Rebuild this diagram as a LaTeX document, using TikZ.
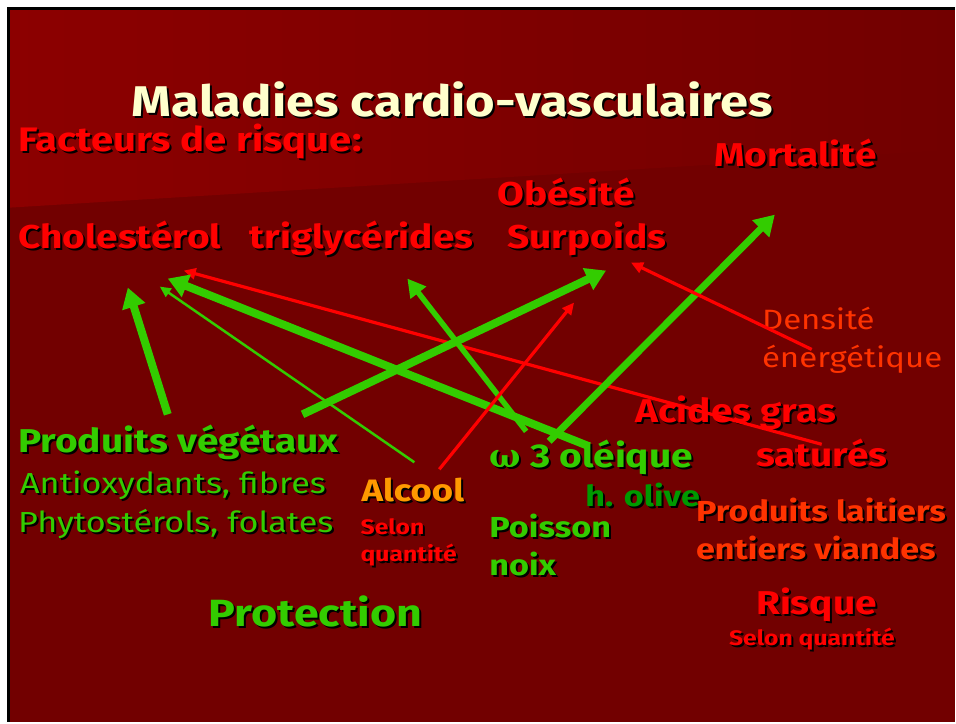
\documentclass[tikz,border=0pt]{standalone}
\usepackage{fontspec}
\usepackage{amsmath}
\usepackage{amssymb}
\setmainfont{Fira Sans}[FakeStretch=1.18]
\newfontfamily\grec{DejaVu Serif}
\usetikzlibrary{arrows.meta}
\definecolor{fond}{HTML}{720000}
\definecolor{fondclair}{HTML}{8C0000}
\definecolor{titre}{HTML}{FFFFCC}
\definecolor{rouge}{HTML}{FF0000}
\definecolor{vert}{HTML}{33CC00}
\definecolor{vertfonce}{HTML}{009900}
\definecolor{orange}{HTML}{FF9900}
\definecolor{orangerouge}{HTML}{FF3300}
\newcommand{\ombre}[1]{\makebox[0pt][l]{\hspace{2pt}\raisebox{-2pt}{\color{black}#1}}#1}

\begin{document}
\begin{tikzpicture}[x=1pt,y=-1pt,
			lbl/.style={anchor=base west, inner sep=0pt, font=\bfseries},
			fin/.style={anchor=base west, inner sep=0pt},
			grosse/.style={draw=vert, line width=8pt, -{Triangle[length=20pt,width=23pt]}},
			moyenne/.style={draw=vert, line width=5.5pt, -{Triangle[length=18pt,width=19pt]}},
			mince/.style={draw=vert, line width=2.5pt, -{Triangle[length=11pt,width=10pt]}},
			rougef/.style={draw=rouge, line width=3.2pt, -{Triangle[length=12pt,width=11pt]}}
		]
		\fill[white] (0,0) rectangle (956,723);
		\fill[fond] (8,8) rectangle (956,723);
		\shade[left color=fondclair, right color=fond] (9,9) -- (956,9) -- (956,150) -- (9,208) -- cycle;
		\draw[black, line width=3pt] (956,8.5) -- (8.5,8.5) -- (8.5,723);

		\node[lbl, text=titre, font=\bfseries\fontsize{43}{48}\selectfont] (titre) at (132,117) {\ombre{Maladies cardio-vasculaires}};
		\node[lbl, text=rouge, font=\bfseries\fontsize{34}{36}\selectfont] (facteurs) at (18,152) {\ombre{Facteurs de risque:}};
		\node[lbl, text=rouge, font=\bfseries\fontsize{33}{36}\selectfont] (mortalite) at (715,167) {\ombre{Mortalité}};
		\node[lbl, text=rouge, font=\bfseries\fontsize{33}{36}\selectfont] (obesite) at (498,206) {\ombre{Obésité}};
		\node[lbl, text=rouge, font=\bfseries\fontsize{33}{36}\selectfont] (chol) at (18,249) {\ombre{Cholestérol}};
		\node[lbl, text=rouge, font=\bfseries\fontsize{33}{36}\selectfont] (trigly) at (250,249) {\ombre{triglycérides}};
		\node[lbl, text=rouge, font=\bfseries\fontsize{33}{36}\selectfont] (surpoids) at (508,249) {\ombre{Surpoids}};

		\node[fin, text=orangerouge, font=\fontsize{28}{32}\selectfont] (densite) at (763,330) {Densité};
		\node[fin, text=orangerouge, font=\fontsize{28}{32}\selectfont] (energie) at (763,368) {énergétique};
		\node[lbl, text=rouge, font=\bfseries\fontsize{33}{36}\selectfont] (acides) at (636,423) {\ombre{Acides gras}};
		\node[lbl, text=rouge, font=\bfseries\fontsize{33}{36}\selectfont] (satures) at (757,467) {\ombre{saturés}};

		\node[lbl, text=vert, font=\bfseries\fontsize{33}{36}\selectfont] (vegetaux) at (18,453) {\ombre{Produits végétaux}};
		\node[fin, text=vert, font=\fontsize{29}{32}\selectfont] (antiox) at (20,494) {\ombre{Antioxydants, fibres}};
		\node[fin, text=vert, font=\fontsize{29}{32}\selectfont] (phyto) at (18,533) {\ombre{Phytostérols, folates}};

		\node[lbl, text=orange, font=\bfseries\fontsize{31}{34}\selectfont] (alcool) at (362,502) {\ombre{Alcool}};
		\node[lbl, text=rouge, font=\bfseries\fontsize{21}{24}\selectfont] (selon) at (361,535) {\ombre{Selon}};
		\node[lbl, text=rouge, font=\bfseries\fontsize{21}{24}\selectfont] (quantite) at (361,562) {\ombre{quantité}};

		\node[lbl, text=vert, font=\bfseries\fontsize{33}{36}\selectfont] (omega) at (490,468) {\ombre{{\grec ω} 3 oléique}};
		\node[lbl, text=vertfonce, font=\bfseries\fontsize{29}{32}\selectfont] (olive) at (586,507) {\ombre{h. olive}};
		\node[lbl, text=vert, font=\bfseries\fontsize{29}{32}\selectfont] (poisson) at (490,538) {\ombre{Poisson}};
		\node[lbl, text=vert, font=\bfseries\fontsize{29}{32}\selectfont] (noix) at (490,576) {\ombre{noix}};

		\node[lbl, text=orangerouge, font=\bfseries\fontsize{29}{32}\selectfont] (laitiers) at (697,522) {\ombre{Produits laitiers}};
		\node[lbl, text=orangerouge, font=\bfseries\fontsize{29}{32}\selectfont] (viandes) at (697,560) {\ombre{entiers viandes}};

		\node[lbl, text=vert, font=\bfseries\fontsize{38}{42}\selectfont] (protection) at (209,627) {\ombre{Protection}};
		\node[lbl, text=rouge, font=\bfseries\fontsize{33}{36}\selectfont] (risque) at (757,615) {\ombre{Risque}};
		\node[lbl, text=rouge, font=\bfseries\fontsize{21}{24}\selectfont] (selonq) at (730,647) {\ombre{Selon quantité}};

		\coordinate (pvHaut) at (168,415);
		\coordinate (pvDroite) at (303,415);
		\coordinate (alcGauche) at (415,463);
		\coordinate (alcDroite) at (440,470);
		\coordinate (omGauche) at (527,432);
		\coordinate (omMilieu) at (550,442);
		\coordinate (omDroite) at (590,447);
		\coordinate (agBout) at (823,445);
		\coordinate (deBout) at (813,350);
		\coordinate (cholA) at (128,288);
		\coordinate (cholB) at (160,287);
		\coordinate (cholC) at (168,279);
		\coordinate (cholD) at (184,271);
		\coordinate (trigA) at (408,279);
		\coordinate (surpA) at (575,303);
		\coordinate (surpB) at (607,271);
		\coordinate (surpC) at (632,263);
		\coordinate (mortA) at (776,215);

		\draw[grosse] (pvHaut) -- (cholA);
		\draw[mince] (alcGauche) -- (cholB);
		\draw[rougef] (agBout) -- (cholD);
		\draw[grosse] (omDroite) -- (cholC);
		\draw[grosse] (pvDroite) -- (surpB);
		\draw[moyenne] (omGauche) -- (trigA);
		\draw[rougef] (alcDroite) -- (surpA);
		\draw[grosse, line width=7pt] (omMilieu) -- (mortA);
		\draw[rougef] (deBout) -- (surpC);
	\end{tikzpicture}
\end{document}
